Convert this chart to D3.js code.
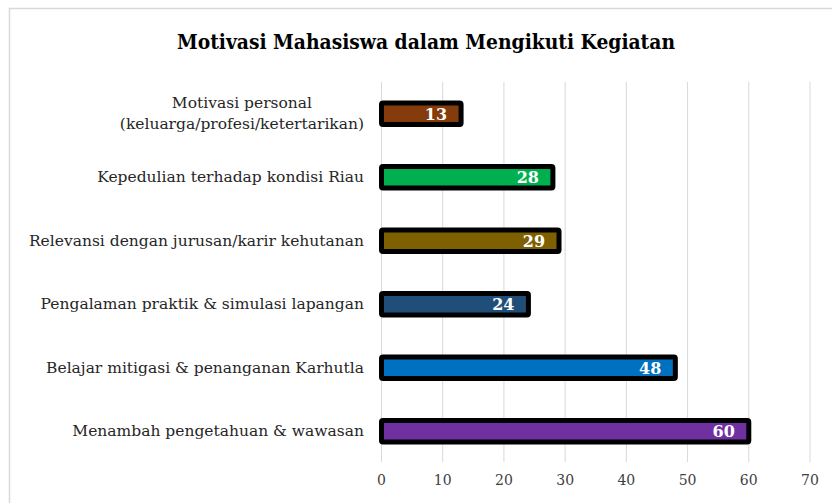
<!DOCTYPE html>
<html>
<head>
<meta charset="utf-8">
<script src="https://cdn.jsdelivr.net/npm/d3@7"></script>
<style>
  body { margin: 0; background: #fff; }
  svg { display: block; }
  .cat { font-family: "DejaVu Serif", serif; font-size: 15.5px; fill: #262626; }
  .tick-lbl { font-family: "DejaVu Serif", serif; font-size: 14px; fill: #404040; }
</style>
</head>
<body>
<div id="chart"></div>
<script>
// data
const categories = [
    "Motivasi personal\n(keluarga/profesi/ketertarikan)",
    "Kepedulian terhadap kondisi Riau",
    "Relevansi dengan jurusan/karir kehutanan",
    "Pengalaman praktik & simulasi lapangan",
    "Belajar mitigasi & penanganan Karhutla",
    "Menambah pengetahuan & wawasan"
];
const values = [13, 28, 29, 24, 48, 60];
const colors = ["#843C0C", "#00B050", "#7F6000", "#1F4E79", "#0070C0", "#7030A0"];
const xTicks = [0, 10, 20, 30, 40, 50, 60, 70];
const title = "Motivasi Mahasiswa dalam Mengikuti Kegiatan";

const W = 832, H = 503;
const svg = d3.select("#chart").append("svg")
    .attr("width", W)
    .attr("height", H);

// chart frame
svg.append("rect")
    .attr("x", 9.5).attr("y", 8.5)
    .attr("width", W + 10).attr("height", H + 10)
    .attr("fill", "#fff")
    .attr("stroke", "#d9d9d9")
    .attr("stroke-width", 1.5);

svg.append("text")
    .attr("x", 426).attr("y", 49)
    .attr("text-anchor", "middle")
    .style("font-family", "'DejaVu Serif Condensed', 'DejaVu Serif', serif")
    .style("font-weight", "bold")
    .style("font-size", "20.8px")
    .style("fill", "#000")
    .text(title);

const x = d3.scaleLinear().domain([0, 70]).range([381.5, 810]);
const y = d3.scaleBand().domain(categories).range([82, 463]).paddingInner(0.66).paddingOuter(0.33);

// gridlines
svg.append("g")
    .selectAll("line")
    .data(xTicks)
    .join("line")
    .attr("x1", d => x(d)).attr("x2", d => x(d))
    .attr("y1", 82).attr("y2", 462)
    .attr("stroke", "#d9d9d9")
    .attr("stroke-width", 1);

// x tick labels
svg.append("g")
    .selectAll("text")
    .data(xTicks)
    .join("text")
    .attr("class", "tick-lbl")
    .attr("x", d => x(d))
    .attr("y", 485)
    .attr("text-anchor", "middle")
    .text(d => d);

// bars
svg.append("g")
    .selectAll("rect")
    .data(values)
    .join("rect")
    .attr("x", x(0))
    .attr("y", (d, i) => y(categories[i]))
    .attr("width", d => x(d) - x(0))
    .attr("height", y.bandwidth())
    .attr("fill", (d, i) => colors[i])
    .attr("stroke", "#000")
    .attr("stroke-width", 5)
    .attr("rx", 1.5);

// data labels
svg.append("g")
    .selectAll("text")
    .data(values)
    .join("text")
    .attr("x", d => x(d) - 14)
    .attr("y", (d, i) => y(categories[i]) + y.bandwidth() / 2 + 6)
    .attr("text-anchor", "end")
    .style("font-family", "'DejaVu Serif', serif")
    .style("font-weight", "bold")
    .style("font-size", "16px")
    .style("fill", "#fff")
    .text(d => d);

// category labels
const labelRight = 364;
categories.forEach((c, i) => {
    const lines = c.split("\n");
    const cy = y(c) + y.bandwidth() / 2;
    const g = svg.append("g");
    const texts = lines.map((ln, j) => g.append("text")
        .attr("class", "cat")
        .attr("y", cy + 5 + (j - (lines.length - 1) / 2) * 21)
        .text(ln));
    const maxW = d3.max(texts, t => t.node().getComputedTextLength());
    texts.forEach(t => t.attr("x", labelRight - maxW / 2).attr("text-anchor", "middle"));
});
</script>
</body>
</html>
